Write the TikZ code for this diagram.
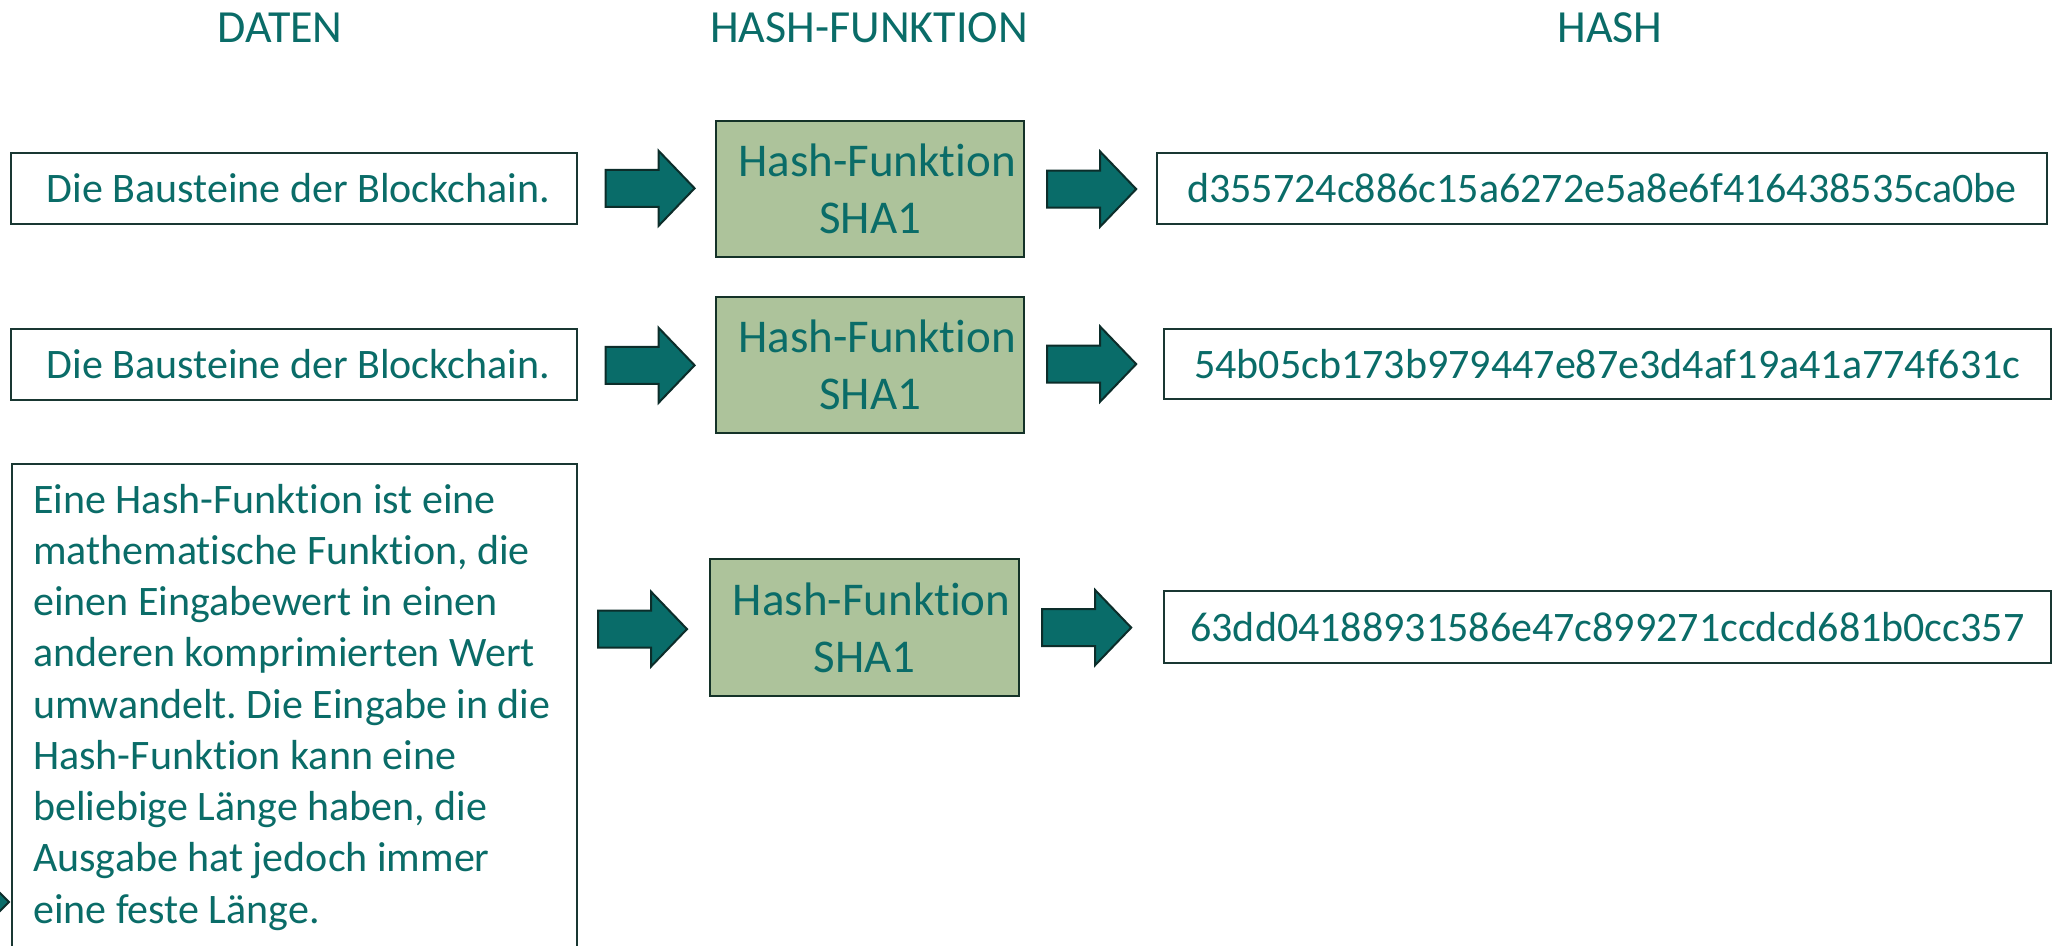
\documentclass[tikz,border=0pt]{standalone}
\usepackage{fontspec}
\setmainfont{Carlito}[Ligatures=NoCommon]
\frenchspacing
\usetikzlibrary{calc}
\definecolor{tealtxt}{RGB}{10,108,104}
\definecolor{arrowfill}{RGB}{9,108,105}
\definecolor{arrowline}{RGB}{12,45,42}
\definecolor{hffill}{RGB}{173,195,155}
\definecolor{hfline}{RGB}{20,50,40}
\definecolor{boxline}{RGB}{25,55,50}
\tikzset{
  barrow/.pic={\path[fill=arrowfill, draw=arrowline, line width=2pt, line join=miter]
     (0,-18.5) -- (53,-18.5) -- (53,-37.5) -- (89,0) -- (53,37.5) -- (53,18.5) -- (0,18.5) -- cycle;}
}
\begin{document}
\begin{tikzpicture}[x=1pt,y=-1pt,
  coltitle/.style={text=tealtxt, font=\fontsize{46}{55}\selectfont, inner sep=0pt, anchor=base},
  databox/.style={draw=boxline, line width=1.6pt, fill=white, text=tealtxt,
     font=\fontsize{42}{51}\selectfont, minimum width=566pt, minimum height=71pt,
     inner sep=0pt, anchor=north west},
  hashbox/.style={draw=boxline, line width=1.6pt, fill=white, text=tealtxt,
     font=\fontsize{42}{51}\selectfont, minimum height=71pt,
     inner sep=0pt, anchor=north west},
  hfbox/.style={draw=hfline, line width=2.2pt, fill=hffill, text=tealtxt,
     font=\fontsize{47}{57}\selectfont, align=center, minimum width=308pt,
     minimum height=136pt, inner sep=0pt, anchor=north west}
]
\useasboundingbox (0,0) rectangle (2053,945);
\clip (0,0) rectangle (2053,945);
\fill[white] (0,0) rectangle (2053,945);

% column titles
\node[coltitle] (t1) at (280,42) {DATEN};
\node[coltitle] (t2) at (869,42) {HASH-FUNKTION};
\node[coltitle] (t3) at (1610,42) {HASH};

% row 1
\node[databox] (d1) at (10,152) {\hspace*{9pt}Die Bausteine der Blockchain.};
\node[hfbox] (f1) at (715,120) {\hspace*{14pt}Hash-Funktion\\SHA1};
\node[hashbox, minimum width=890pt] (h1) at (1156,152) {d355724c886c15a6272e5a8e6f416438535ca0be};
\pic at ($(d1.east)+(28,0)$) {barrow};
\pic at ($(f1.east)+(22,0)$) {barrow};

% row 2
\node[databox, minimum height=71pt] (d2) at (10,328) {\hspace*{9pt}Die Bausteine der Blockchain.};
\node[hfbox] (f2) at (715,296) {\hspace*{14pt}Hash-Funktion\\SHA1};
\node[hashbox, minimum width=887pt, minimum height=70pt] (h2) at (1163,328) {54b05cb173b979447e87e3d4af19a41a774f631c};
\pic at ($(d2.east)+(28,1)$) {barrow};
\pic at ($(f2.east)+(22,-1)$) {barrow};

% row 3
\node[draw=boxline, line width=1.6pt, fill=white, minimum width=565pt, minimum height=520pt,
      inner sep=0pt, anchor=north west] (d3) at (11,463) {};
\node[anchor=base west, inner sep=0pt, text=tealtxt] (d3text) at (33,513)
  {\parbox[t]{540pt}{\raggedright\fontsize{42}{51.25}\selectfont
   Eine Hash-Funktion ist eine\\
   mathematische Funktion, die\\
   einen Eingabewert in einen\\
   anderen komprimierten Wert\\
   umwandelt. Die Eingabe in die\\
   Hash-Funktion kann eine\\
   beliebige Länge haben, die\\
   Ausgabe hat jedoch immer\\
   eine feste Länge.}};
\node[hfbox, minimum width=309pt, minimum height=137pt] (f3) at (709,558) {\hspace*{14pt}Hash-Funktion\\SHA1};
\node[hashbox, minimum width=887pt, minimum height=72pt] (h3) at (1163,590) {63dd04188931586e47c899271ccdcd681b0cc357};
\pic at ($(f3.west)+(-111,1.5)$) {barrow};
\pic at ($(f3.east)+(22,0)$) {barrow};

% fragment of an arrow tip at the left edge
\path[fill=arrowfill, draw=arrowline, line width=2pt] (-30,863) -- (9,902) -- (-30,941) -- cycle;
\end{tikzpicture}
\end{document}
